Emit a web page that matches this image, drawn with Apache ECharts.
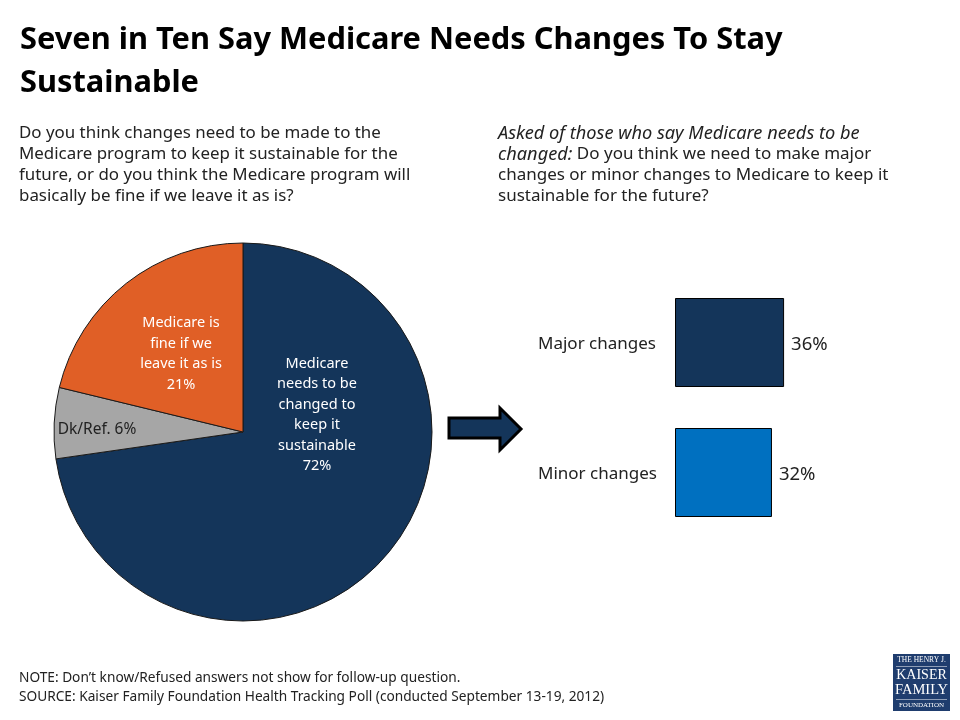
<!DOCTYPE html>
<html>
<head>
<meta charset="utf-8">
<style>html,body{margin:0;padding:0;background:#fff}#main{width:960px;height:720px}</style>
<script src="https://cdn.jsdelivr.net/npm/echarts@6/dist/echarts.min.js"></script>
</head>
<body>
<div id="main"></div>
<script>
var pieNames = ['Medicare\nneeds to be\nchanged to\nkeep it\nsustainable', 'Dk/Ref.', 'Medicare is\nfine if we\nleave it as is'];
var pieValues = [72, 6, 21];
var pieColors = ['#14355a', '#a6a6a6', '#e05f26'];
var pieTextColors = ['#fff', '#222', '#fff'];
var pieLabelPos = [[317, 415], [97, 430], [181, 354]];

var barNames = ['Major changes', 'Minor changes'];
var barValues = [36, 32];
var barColors = ['#14355a', '#0070c0'];

var FONT = '"Noto Sans"';
var chart = echarts.init(document.getElementById('main'));

chart.setOption({
    animation: false,
    backgroundColor: '#fff',
    textStyle: { fontFamily: FONT },
    title: [
        {
            text: 'Seven in Ten Say Medicare Needs Changes To Stay\nSustainable',
            left: 20, top: 19, padding: 0,
            textStyle: { fontSize: 30.8, fontWeight: 'bold', color: '#000', lineHeight: 43, fontFamily: FONT }
        },
        {
            text: 'Do you think changes need to be made to the\nMedicare program to keep it sustainable for the\nfuture, or do you think the Medicare program will\nbasically be fine if we leave it as is?',
            left: 19, top: 123, padding: 0,
            textStyle: { fontSize: 16.9, fontWeight: 'normal', color: '#222', lineHeight: 21, fontFamily: FONT }
        },
        {
            text: '{i|Asked of those who say Medicare needs to be}\n{i|changed:} Do you think we need to make major\nchanges or minor changes to Medicare to keep it\nsustainable for the future?',
            left: 498, top: 123, padding: 0,
            textStyle: {
                fontSize: 17, fontWeight: 'normal', color: '#222', lineHeight: 21, fontFamily: FONT,
                rich: { i: { fontStyle: 'italic', fontSize: 18.2, color: '#222', lineHeight: 21, fontFamily: FONT } }
            }
        },
        {
            text: 'NOTE: Don\u2019t know/Refused answers not show for follow-up question.\nSOURCE: Kaiser Family Foundation Health Tracking Poll (conducted September 13-19, 2012)',
            left: 19, top: 669, padding: 0,
            textStyle: { fontSize: 13.7, fontWeight: 'normal', color: '#222', lineHeight: 18.5, fontFamily: FONT }
        }
    ],
    grid: { left: 675, top: 277.5, width: 242.4, height: 260, outerBoundsMode: 'none' },
    xAxis: { type: 'value', min: 0, max: 80, show: false },
    yAxis: {
        type: 'category',
        data: barNames,
        inverse: true,
        axisLine: { show: false },
        axisTick: { show: false },
        axisLabel: {
            align: 'left',
            margin: 137,
            formatter: '{a|{value}}',
            rich: { a: { fontSize: 17, color: '#222', fontFamily: FONT, padding: [4, 0, 0, 0] } }
        }
    },
    series: [
        {
            type: 'pie',
            center: [243, 432],
            radius: [0, 189],
            startAngle: 90,
            clockwise: true,
            data: pieNames.map(function (name, i) {
                return {
                    name: name,
                    value: pieValues[i],
                    itemStyle: { color: pieColors[i], borderColor: '#1a1a1a', borderWidth: 1 },
                    label: { color: pieTextColors[i], fontSize: i === 1 ? 15.5 : 14.5 }
                };
            }),
            label: {
                position: 'inside',
                fontSize: 14.5,
                lineHeight: 20.5,
                align: 'center',
                fontFamily: FONT,
                formatter: function (p) {
                    // Dk/Ref. stays on one line, the others have the percent below
                    return p.name + (p.dataIndex === 1 ? ' ' : '\n') + p.value + '%';
                }
            },
            labelLine: { show: false },
            labelLayout: function (p) {
                return { x: pieLabelPos[p.dataIndex][0], y: pieLabelPos[p.dataIndex][1], align: 'center', verticalAlign: 'middle' };
            },
            emphasis: { disabled: true }
        },
        {
            type: 'bar',
            barWidth: 89,
            data: barValues.map(function (v, i) {
                return { value: v, itemStyle: { color: barColors[i], borderColor: '#000', borderWidth: 1 } };
            }),
            label: {
                show: true,
                position: 'right',
                distance: 7,
                offset: [0, 2],
                fontSize: 18.5,
                color: '#222',
                fontFamily: FONT,
                formatter: '{c}%'
            }
        }
    ],
    graphic: [
        {
            // arrow between the pie and the bars
            type: 'polygon',
            shape: { points: [[449, 418], [500, 418], [500, 408], [521, 429], [500, 450], [500, 438], [449, 438]] },
            style: { fill: '#14355a', stroke: '#000', lineWidth: 3 }
        },
        { type: 'rect', shape: { x: 893, y: 654, width: 57, height: 57 }, style: { fill: '#1f3d6e' } },
        { type: 'text', x: 921.5, y: 660.5, style: { text: 'THE HENRY J.', fill: '#fff', font: '7.5px "Liberation Serif"', align: 'center', verticalAlign: 'middle' } },
        { type: 'rect', shape: { x: 896, y: 666, width: 51, height: 0.6 }, style: { fill: '#fff' } },
        { type: 'text', x: 921.5, y: 675, style: { text: 'KAISER', fill: '#fff', font: '14px "Liberation Serif"', align: 'center', verticalAlign: 'middle' } },
        { type: 'text', x: 921.5, y: 690, style: { text: 'FAMILY', fill: '#fff', font: '14.5px "Liberation Serif"', align: 'center', verticalAlign: 'middle' } },
        { type: 'rect', shape: { x: 896, y: 699, width: 51, height: 0.6 }, style: { fill: '#fff' } },
        { type: 'text', x: 921.5, y: 705, style: { text: 'FOUNDATION', fill: '#fff', font: '7px "Liberation Serif"', align: 'center', verticalAlign: 'middle' } }
    ]
});
</script>
</body>
</html>
